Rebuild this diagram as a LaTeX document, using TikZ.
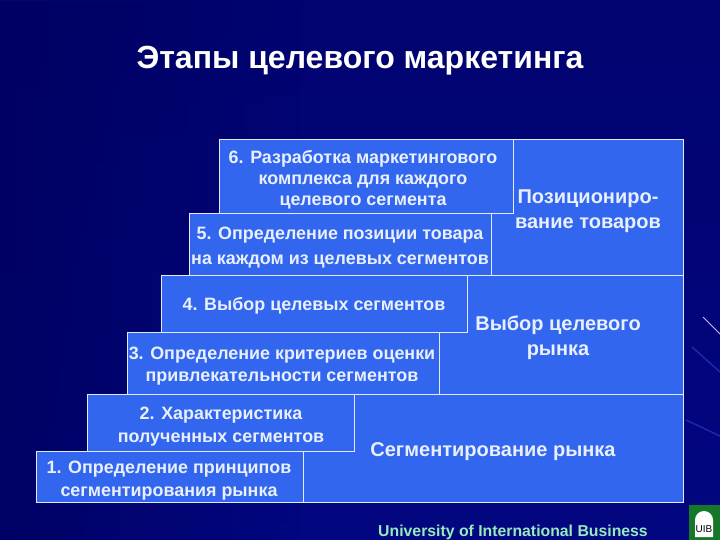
\documentclass[tikz,border=0pt]{standalone}
\usepackage{fontspec}
\setmainfont{Liberation Sans}
\usetikzlibrary{fadings}
\definecolor{boxblue}{RGB}{51,102,238}
\definecolor{bgdark}{RGB}{0,0,95}
\definecolor{bgmid}{RGB}{4,10,150}
\definecolor{edgewhite}{RGB}{225,235,255}
\definecolor{textwhite}{RGB}{232,240,255}
\definecolor{footgreen}{RGB}{150,235,190}
\definecolor{logogreen}{RGB}{20,120,40}
\definecolor{streak}{RGB}{215,180,240}
\definecolor{faintstreak}{RGB}{25,40,175}
\tikzset{
  x=1pt,y=-1pt,
  panel/.style={draw=edgewhite,fill=boxblue,line width=0.8pt},
  steppanel/.style={panel,inner sep=0pt,anchor=north west},
  step label/.style={text=textwhite,font=\bfseries\fontsize{17.9}{22.5}\selectfont,align=center,inner sep=0pt},
  stage label/.style={text=textwhite,font=\bfseries\fontsize{20}{25}\selectfont,align=center,inner sep=0pt},
}
\begin{document}
\begin{tikzpicture}
\useasboundingbox (0,0) rectangle (720,540);
\shade[top color=bgdark!70!bgmid,middle color=bgmid,bottom color=bgdark!40!bgmid] (0,0) rectangle (720,540);
\fill[bgdark,path fading=east,fill opacity=0.8] (0,0) rectangle (300,540);
% streaks
\draw[faintstreak,line width=1.5pt] (692,347) -- (720,372);
\draw[faintstreak,line width=1.5pt] (686,420) -- (720,436);
\draw[streak,line width=0.8pt] (703,317) -- (720,334);
% right panel
\draw[panel] (300,139) rectangle (683,502);
\draw[panel] (400,275) -- (683,275);
\draw[panel] (300,394) -- (683,394);
% steps
\node[steppanel,minimum width=294pt,minimum height=74pt] (s6) at (219,139) {};
\node[steppanel,minimum width=302pt,minimum height=62pt] (s5) at (189,213) {};
\node[steppanel,minimum width=306pt,minimum height=57pt] (s4) at (161,275) {};
\node[steppanel,minimum width=312pt,minimum height=62pt] (s3) at (127,332) {};
\node[steppanel,minimum width=267pt,minimum height=57pt] (s2) at (87,394) {};
\node[steppanel,minimum width=267pt,minimum height=51pt] (s1) at (36,451) {};
\node[step label,font=\bfseries\fontsize{17.9}{21}\selectfont] (t6) at (363,180) {6. Разработка маркетингового\\комплекса для каждого\\целевого сегмента};
\node[step label,font=\bfseries\fontsize{17.9}{25}\selectfont] (t5) at (340,248) {5. Определение позиции товара\\на каждом из целевых сегментов};
\node[step label] (t4) at (314,306) {4. Выбор целевых сегментов};
\node[step label] (t3) at (282,366) {3. Определение критериев оценки\\привлекательности сегментов};
\node[step label] (t2) at (221,426.5) {2. Характеристика\\полученных сегментов};
\node[step label] (t1) at (169,480.5) {1. Определение принципов\\сегментирования рынка};
\node[stage label] (p1) at (588,211) {Позициониро-\\вание товаров};
\node[stage label] (p2) at (558,338) {Выбор целевого\\рынка};
\node[stage label] (p3) at (493,452) {Сегментирование рынка};
\node[text=white,font=\bfseries\fontsize{32}{36}\selectfont,inner sep=0pt] (title) at (360,61) {Этапы целевого маркетинга};
\node[text=footgreen,font=\bfseries\fontsize{15.8}{18}\selectfont,inner sep=0pt] (foot) at (513,532) {University of International Business};
% logo
\fill[logogreen] (689,505) rectangle (720,540);
\fill[white] (695,537) -- (695,520) arc[start angle=180,end angle=360,radius=9] -- (713,537) -- cycle;
\node[text=black,font=\fontsize{10}{11}\selectfont,inner sep=0pt] (logo) at (704,529) {UIB};
\end{tikzpicture}
\end{document}
